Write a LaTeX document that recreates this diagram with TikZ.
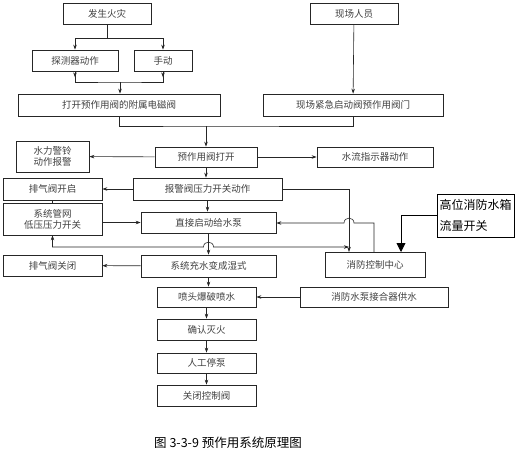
\documentclass[tikz,border=0pt]{standalone}
\usepackage{fontspec}
\setmainfont{Noto Sans CJK SC}
\usepackage{tikz}
\usetikzlibrary{arrows.meta}

\begin{document}
\begin{tikzpicture}[x=1pt,y=-1pt,
    box/.style={draw=black!85,line width=0.7pt,inner sep=0pt,minimum height=21pt,align=center,text=black!75,font=\fontsize{9.5}{11}\selectfont},
    link/.style={draw=black!85,line width=0.6pt},
    >={Stealth[length=5pt,width=3.5pt]}]

    \useasboundingbox (0,0) rectangle (527,469);

    \node[box,minimum width=88pt]                     (fire)    at (107,13.5)   {发生火灾};
    \node[box,minimum width=86pt]                     (det)     at (75,60.5)    {探测器动作};
    \node[box,minimum width=58pt]                     (manual)  at (163,60.5)   {手动};
    \node[box,minimum width=202pt,minimum height=22pt] (sol)    at (119,105)    {打开预作用阀的附属电磁阀};
    \node[box,minimum width=88pt]                     (staff)   at (354,13.5)   {现场人员};
    \node[box,minimum width=180pt,minimum height=22pt] (emerg)  at (353,105)    {现场紧急启动阀预作用阀门};
    \node[box,minimum width=102pt,minimum height=20pt] (open)   at (206,157)    {预作用阀打开};
    \node[box,minimum width=73pt,minimum height=31pt]  (bell)   at (52.5,156.5) {水力警铃\\动作报警};
    \node[box,minimum width=116pt,minimum height=20pt] (flow)   at (375,157)    {水流指示器动作};
    \node[box,minimum width=149pt,minimum height=22pt] (psw)    at (207.5,189)  {报警阀压力开关动作};
    \node[box,minimum width=99pt,minimum height=22pt]  (vopen)  at (52.5,189)   {排气阀开启};
    \node[box,minimum width=99pt,minimum height=32pt]  (lowp)   at (52.5,219)   {系统管网\\低压压力开关};
    \node[box,minimum width=135pt]                    (pump)    at (208.5,222.5) {直接启动给水泵};
    \node[box,minimum width=99pt]                     (vclose)  at (52.5,265.5) {排气阀关闭};
    \node[box,minimum width=135pt,minimum height=22pt] (wet)    at (208.5,266)  {系统充水变成湿式};
    \node[box,minimum width=100pt,minimum height=25pt] (ctl)    at (375,264.5)  {消防控制中心};
    \node[draw,line width=0.8pt,minimum width=77pt,minimum height=43pt,inner sep=0pt,align=left,font=\fontsize{12}{21}\selectfont]
                                                      (tank)    at (475.5,215.5) {高位消防水箱\\流量开关};
    \node[box,minimum width=99pt,minimum height=20pt]  (spray)  at (206.5,297)  {喷头爆破喷水};
    \node[box,minimum width=148pt,minimum height=20pt] (supply) at (374,297)    {消防水泵接合器供水};
    \node[box,minimum width=99pt]                     (confirm) at (206.5,329.5) {确认灭火};
    \node[box,minimum width=99pt,minimum height=20pt]  (stop)   at (206.5,363)  {人工停泵};
    \node[box,minimum width=99pt]                     (shut)    at (206.5,395.5) {关闭控制阀};
    \node[font=\fontsize{12.5}{14}\selectfont]        (cap)     at (228,443)    {图 3-3-9 预作用系统原理图};

    % junctions and hops
    \coordinate (j1) at (107,38);
    \coordinate (j2) at (120,82);
    \coordinate (j3) at (206,126);
    \coordinate (c1) at (349,252);
    \coordinate (c2) at (349,247);
    \coordinate (h1) at (203.5,247);
    \coordinate (h2) at (213.5,247);
    \coordinate (c3) at (374,252);
    \coordinate (h3) at (354,223);
    \coordinate (h4) at (344,223);
    \coordinate (c4) at (401,252);

    \draw[link] (fire.south) -- (j1);
    \draw[link,->] (j1) -| (det.north);
    \draw[link,->] (j1) -| (manual.north);
    \draw[link] (det.south) |- (j2) -| (manual.south);
    \draw[link,->] (det.south) -- ++(0,6);
    \draw[link,->] (manual.south) -- ++(0,6);
    \draw[link,->] (j2) -- (j2 |- sol.north);
    \draw[link] (sol.south) |- (j3) -| (emerg.south);
    \draw[link,->] (j3) -- (open.north);
    \draw (staff) edge[link,->] (emerg);

    \draw (open) edge[link,->] (bell);
    \draw (open) edge[link,->] (flow);
    \draw[link,->] (open.south) -- (open.south |- psw.north);
    \draw (psw) edge[link,->] (vopen);
    \draw[link,->] (psw.south) -- (psw.south |- pump.north);
    \draw[link,->] (psw.east) -| (c1);
    \draw (vopen) edge[link] (lowp);
    \draw[link,->] (lowp.east |- pump.west) -- (pump.west);
    \draw[link,<->] (lowp.south) |- (h1) .. controls +(0,-6.5) and +(0,-6.5) .. (h2) -- (c2);
    \draw[link,->] (c3) |- (h3) .. controls +(0,-6.5) and +(0,-6.5) .. (h4) -- (h4 -| pump.east);
    \draw[line width=0.9pt,-{Triangle[length=9pt,width=9pt]}] (tank.west) -| (c4);
    \draw[link,->] (pump.south) -- (wet.north);
    \draw (wet) edge[link,->] (vclose);

    \draw[link,->] (wet.south) -- (wet.south |- spray.north);
    \draw (supply) edge[link,->] (spray);
    \draw (spray) edge[link,->] (confirm);
    \draw (confirm) edge[link,->] (stop);
    \draw (stop) edge[link,->] (shut);
\end{tikzpicture}
\end{document}
